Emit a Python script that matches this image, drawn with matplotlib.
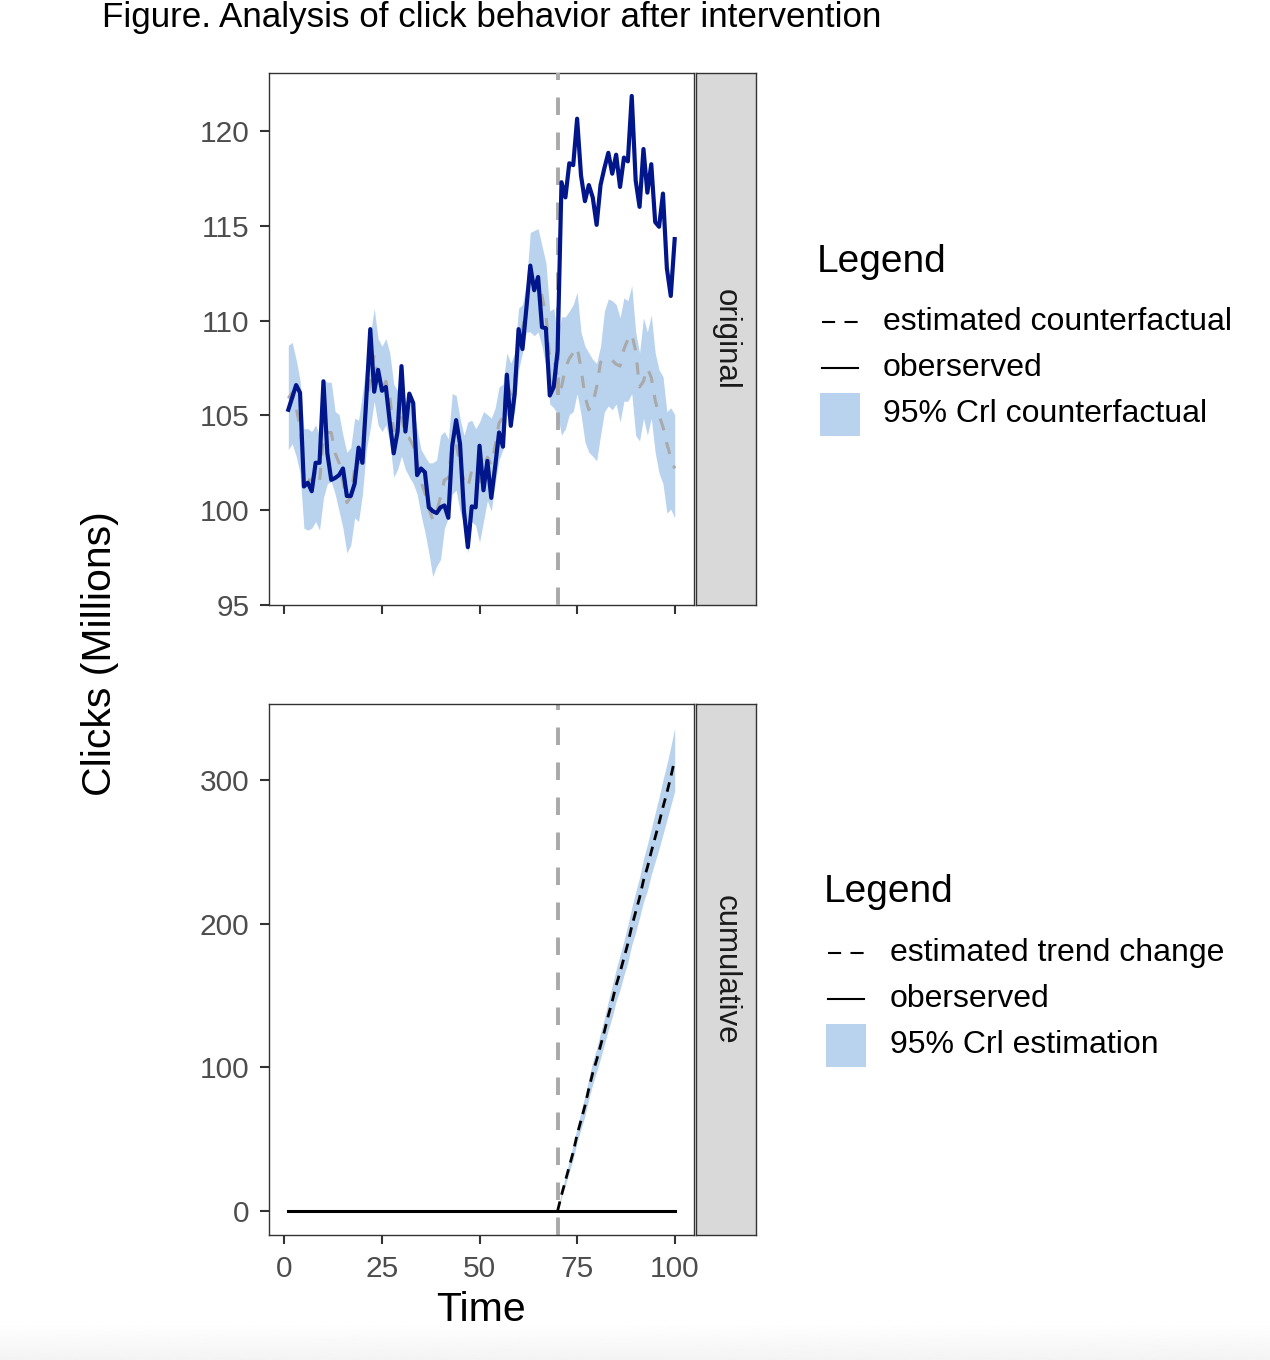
import numpy as np
import matplotlib
matplotlib.use('Agg')
import matplotlib.pyplot as plt
from matplotlib.lines import Line2D
from matplotlib.patches import Rectangle

plt.rcParams['font.family'] = ['Liberation Sans', 'DejaVu Sans']

#------------------------------------------------------------------------------
# Data
#------------------------------------------------------------------------------

time = list(range(1, 101))
t_intervention = 70

observed = [105.3, 105.95, 106.6, 106.2, 101.25, 101.45, 101.0, 102.5, 102.5, 106.8,
            103.0, 101.6, 101.7, 101.85, 102.2, 100.75, 100.75, 101.4, 103.3, 102.5,
            105.95, 109.55, 106.25, 107.4, 106.3, 106.5, 104.65, 103.0, 104.15, 107.6,
            104.15, 106.15, 105.65, 101.85, 102.2, 102.0, 100.15, 99.95, 99.85, 100.15,
            100.25, 99.6, 103.4, 104.75, 103.5, 99.95, 98.05, 100.2, 100.15, 103.4,
            101.05, 102.6, 100.65, 102.3, 104.1, 103.35, 107.15, 104.45, 106.15, 109.55,
            108.5, 110.65, 112.9, 111.6, 112.3, 109.65, 109.6, 106.05, 106.5, 108.4,
            117.3, 116.5, 118.3, 118.2, 120.65, 117.65, 116.3, 117.15, 116.5, 115.05,
            117.15, 118.05, 118.85, 117.75, 118.75, 117.05, 118.6, 118.4, 121.85, 117.4,
            116.0, 119.05, 116.75, 118.25, 115.2, 114.95, 116.7, 112.75, 111.3, 114.3]

counterfactual = [105.9, 106.2, 105.4, 104.4, 101.7, 101.6, 101.6, 102.0, 101.5, 103.8,
                  104.1, 104.1, 103.0, 102.5, 101.5, 100.4, 100.7, 102.2, 102.1, 103.5,
                  105.5, 106.8, 108.2, 106.8, 106.4, 106.8, 106.0, 104.2, 104.2, 104.9,
                  103.9, 103.8, 103.4, 102.6, 101.5, 100.9, 100.1, 99.5, 99.9, 100.7,
                  101.6, 101.7, 103.5, 103.5, 102.4, 101.6, 101.2, 102.1, 101.8, 101.5,
                  102.3, 102.8, 102.4, 103.4, 104.6, 104.9, 106.7, 106.1, 106.8, 109.0,
                  109.6, 110.7, 112.0, 112.0, 112.1, 111.3, 110.3, 108.0, 108.0, 107.0,
                  106.5, 107.5, 108.0, 108.3, 108.6, 107.5, 106.0, 105.3, 105.6, 106.5,
                  107.8, 108.0, 108.0, 107.9, 107.7, 107.6, 108.5, 109.0, 109.3, 108.4,
                  106.5, 106.8, 107.5, 107.0, 105.8, 105.0, 104.4, 103.5, 102.8, 102.2]

cf_upper = [108.7, 108.85, 107.95, 106.85, 104.3, 104.3, 104.15, 104.5, 103.95, 106.85,
            106.75, 106.75, 105.2, 105.05, 103.95, 103.05, 103.3, 104.85, 104.75, 106.15,
            107.75, 109.2, 110.65, 109.05, 108.65, 109.05, 108.3, 106.65, 106.3, 106.85,
            105.75, 105.75, 105.4, 104.3, 103.2, 102.85, 102.5, 102.5, 102.65, 103.95,
            104.15, 103.75, 106.15, 106.05, 104.85, 103.95, 104.65, 104.75, 104.3, 104.65,
            105.2, 105.05, 104.85, 105.4, 106.5, 106.65, 108.3, 107.75, 108.3, 110.65,
            110.85, 111.95, 114.65, 114.75, 114.85, 113.95, 113.05, 110.5, 110.65, 109.2,
            110.2, 110.2, 110.5, 110.85, 111.5, 109.4, 108.65, 108.3, 107.95, 107.75,
            108.65, 110.5, 111.15, 111.05, 110.85, 110.15, 111.2, 111.05, 111.85, 109.4,
            108.3, 110.15, 109.4, 110.3, 108.3, 107.4, 107.05, 105.2, 105.4, 105.05]

cf_lower = [103.2, 103.5, 102.85, 101.95, 99.05, 98.95, 99.05, 99.4, 98.95, 100.65,
            101.4, 101.5, 100.85, 99.95, 99.05, 97.75, 98.15, 99.6, 99.4, 100.85,
            103.2, 104.3, 105.75, 104.5, 104.15, 104.5, 103.6, 101.75, 102.15, 102.85,
            102.15, 101.75, 101.4, 100.85, 99.75, 98.85, 97.75, 96.5, 97.05, 97.4,
            99.05, 99.6, 100.85, 101.05, 99.95, 99.2, 97.75, 99.4, 99.2, 98.3,
            99.4, 100.5, 99.95, 101.4, 102.65, 103.2, 105.05, 104.5, 105.2, 107.4,
            108.3, 109.4, 109.4, 109.2, 109.4, 108.65, 107.6, 105.6, 105.4, 105.05,
            103.95, 104.3, 105.05, 105.2, 106.15, 105.05, 103.6, 103.05, 102.85, 102.6,
            103.95, 105.2, 105.5, 105.3, 105.6, 104.65, 105.75, 105.75, 106.15, 103.95,
            103.65, 104.85, 103.95, 104.85, 103.05, 101.95, 101.4, 99.85, 100.05, 99.6]

# cumulative panel
cum_observed = [0.0] * 100
time_post = list(range(70, 101))
cum_effect = [0, 11, 21, 31, 41, 53, 63, 73, 85, 96, 105, 115, 125, 136, 146, 157,
              166, 176, 186, 198, 208, 218, 230, 239, 250, 260, 270, 281, 291, 302, 314]
cum_upper = [0, 13, 24, 35, 46, 58, 69, 80, 92, 104, 113, 124, 134, 146, 157, 168,
             178, 188, 199, 211, 222, 232, 245, 255, 266, 277, 288, 300, 311, 323, 336]
cum_lower = [0, 9, 18, 27, 36, 48, 57, 66, 78, 88, 97, 106, 116, 126, 135, 146,
             154, 164, 173, 185, 194, 204, 215, 223, 234, 243, 252, 262, 272, 282, 292]

x_ticks = [0, 25, 50, 75, 100]
y_ticks_top = [95, 100, 105, 110, 115, 120]
y_ticks_bottom = [0, 100, 200, 300]

legend_top = ['estimated counterfactual', 'oberserved', '95% Crl counterfactual']
legend_bottom = ['estimated trend change', 'oberserved', '95% Crl estimation']

#------------------------------------------------------------------------------
# Styling
#------------------------------------------------------------------------------

W, H = 1270, 1360
band_col = '#B9D3EE'
obs_col = '#02168C'
grey_col = '#A9A9A9'
frame_col = '#333333'


def px_axes(fig, left, top, right, bottom):
    return fig.add_axes([left / W, 1 - bottom / H, (right - left) / W, (bottom - top) / H])


def style_axes(ax):
    for sp in ax.spines.values():
        sp.set_color(frame_col)
        sp.set_linewidth(1.0)
    ax.tick_params(direction='out', length=6.7, width=1.5, color=frame_col,
                   labelcolor='#4D4D4D', labelsize=21.5, pad=7.5)


def add_strip(fig, top, bottom, label):
    sax = px_axes(fig, 696, top, 756, bottom)
    sax.set_facecolor('#D9D9D9')
    sax.set_xticks([])
    sax.set_yticks([])
    for sp in sax.spines.values():
        sp.set_color(frame_col)
        sp.set_linewidth(1.0)
    sax.text(0.5, 0.5, label, rotation=-90, ha='center', va='center',
             fontsize=22.5, color='#1A1A1A', transform=sax.transAxes)


fig = plt.figure(figsize=(W / 100, H / 100), dpi=100)
fig.patch.set_facecolor('white')

#------------------------------------------------------------------------------
# Top panel: original
#------------------------------------------------------------------------------

ax1 = px_axes(fig, 269, 73, 694, 605)
ax1.fill_between(time, cf_lower, cf_upper, color=band_col, lw=0, zorder=1)
ax1.plot(time, counterfactual, color=grey_col, lw=2.2, dashes=(4, 4), zorder=2)
ax1.axvline(t_intervention, color=grey_col, lw=2.8, dashes=(4.5, 4.5), zorder=3)
ax1.plot(time, observed, color=obs_col, lw=3.0, zorder=4)
ax1.set_xlim(-3.95, 104.95)
ax1.set_ylim(95, 123.06)
ax1.set_xticks(x_ticks)
ax1.set_xticklabels([])
ax1.set_yticks(y_ticks_top)
style_axes(ax1)
add_strip(fig, 73, 605, 'original')

#------------------------------------------------------------------------------
# Bottom panel: cumulative
#------------------------------------------------------------------------------

ax2 = px_axes(fig, 269, 704, 694, 1235)
ax2.fill_between(time_post, cum_lower, cum_upper, color=band_col, lw=0, zorder=1)
ax2.axvline(t_intervention, color=grey_col, lw=2.8, dashes=(4.5, 4.5), zorder=2)
ax2.plot(time, cum_observed, color='black', lw=2.2, zorder=3)
ax2.plot(time_post, cum_effect, color='black', lw=2.0, dashes=(3.5, 2.5), zorder=4)
ax2.set_xlim(-3.95, 104.95)
ax2.set_ylim(-16.8, 352.8)
ax2.set_xticks(x_ticks)
ax2.set_yticks(y_ticks_bottom)
style_axes(ax2)
add_strip(fig, 704, 1235, 'cumulative')

#------------------------------------------------------------------------------
# Overlay in pixel coordinates: titles, legends, screenshot shade
#------------------------------------------------------------------------------

ov = fig.add_axes([0, 0, 1, 1])
ov.patch.set_alpha(0)
grad = np.linspace(1.0, 0.955, 30).reshape(-1, 1)
ov.imshow(grad, extent=[0, W, H, 1322], cmap='gray', vmin=0, vmax=1,
          aspect='auto', zorder=0)
ov.set_xlim(0, W)
ov.set_ylim(H, 0)
ov.axis('off')

ov.text(102, 18, 'Figure. Analysis of click behavior after intervention',
        ha='left', va='center', fontsize=25.2, color='black')
ov.text(100, 654, 'Clicks (Millions)', rotation=90, ha='center', va='center',
        fontsize=29.5, color='black')
ov.text(481, 1310, 'Time', ha='center', va='center', fontsize=29.5, color='black')


def draw_legend(title_x, title_y, key_x, text_x, rows, labels):
    ov.text(title_x, title_y, 'Legend', ha='left', va='center', fontsize=28)
    styles = [dict(dashes=(6.3, 4.5)), dict(), None]
    for y, lab, st in zip(rows, labels, styles):
        if st is None:
            ov.add_patch(Rectangle((key_x, y - 21.5), 40, 43, color=band_col, lw=0))
        else:
            ov.add_line(Line2D([key_x + 2, key_x + 38], [y, y], color='black',
                               lw=1.5, **st))
        ov.text(text_x, y, lab, ha='left', va='center', fontsize=23)


draw_legend(817, 262, 820, 883, [322, 368, 414], legend_top)
draw_legend(824, 892, 826, 890, [953, 999, 1045], legend_bottom)

fig.savefig('out.png', dpi=100)
